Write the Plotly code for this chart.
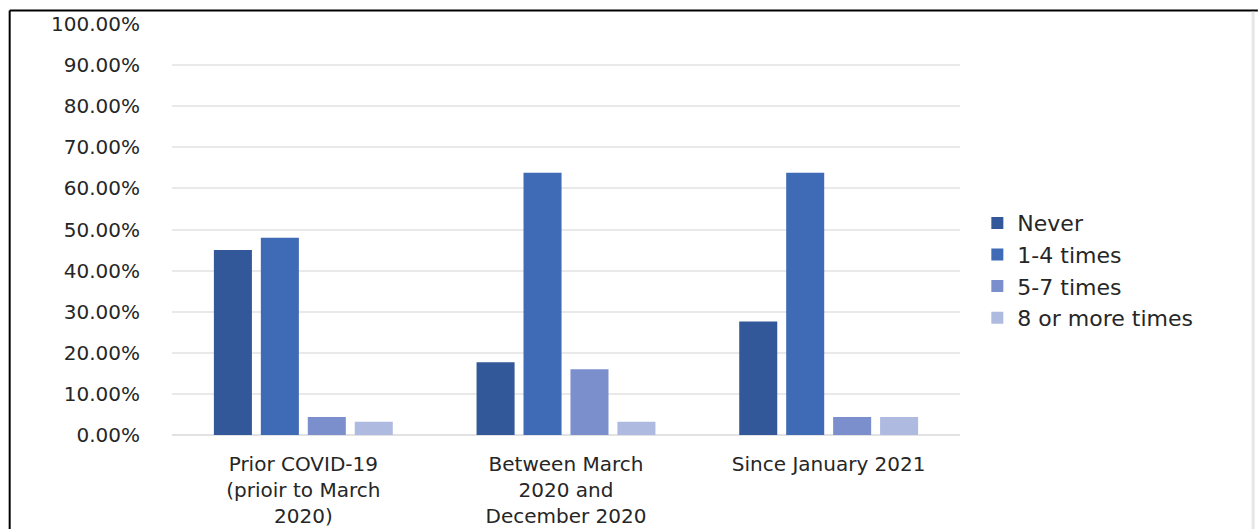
import plotly.graph_objects as go

categories = ["Prior COVID-19<br>(prioir to March<br>2020)",
              "Between March<br>2020 and<br>December 2020",
              "Since January 2021"]
series_names = ["Never", "1-4 times", "5-7 times", "8 or more times"]
never = [45.0, 17.7, 27.6]
times_1_4 = [48.0, 63.8, 63.8]
times_5_7 = [4.4, 16.0, 4.4]
times_8_plus = [3.2, 3.2, 4.4]
colors = ["#335899", "#3F6AB6", "#7B8FCD", "#AEBADF"]

fig = go.Figure()
for name, vals, col in zip(series_names, [never, times_1_4, times_5_7, times_8_plus], colors):
    fig.add_trace(go.Bar(x=categories, y=vals, name=name, marker=dict(color=col, line=dict(width=0))))

FONT = "DejaVu Sans"
TXT = "#262626"
fig.update_layout(
    width=1259, height=529,
    margin=dict(l=172, r=299, t=24, b=94),
    paper_bgcolor="white", plot_bgcolor="white",
    barmode="group", bargap=0.285, bargroupgap=0.19,
    font=dict(family=FONT, color=TXT),
    showlegend=True,
    legend=dict(x=1.022, y=0.40, xanchor="left", yanchor="middle",
                font=dict(family=FONT, size=22, color=TXT),
                itemwidth=30, tracegroupgap=0, bgcolor="rgba(0,0,0,0)"),
    xaxis=dict(showgrid=False, showline=False, ticks="", automargin=False,
               tickfont=dict(family=FONT, size=20, color=TXT),
               ticklabelstandoff=15),
    yaxis=dict(range=[0, 100], dtick=10, tickformat=".2f", ticksuffix="%",
               showgrid=True, gridcolor="#e9e9e9", gridwidth=2,
               zeroline=True, zerolinecolor="#e2e2e2", zerolinewidth=2,
               showline=False, ticks="", automargin=False,
               tickfont=dict(family=FONT, size=20, color=TXT),
               ticklabelstandoff=31),
)

# frame lines of the picture
fig.add_shape(type="line", xref="paper", yref="paper", x0=-0.206, x1=1.378, y0=1.033, y1=1.033,
              line=dict(color="black", width=2))
fig.add_shape(type="line", xref="paper", yref="paper", x0=-0.206, x1=-0.206, y0=1.033, y1=-0.25,
              line=dict(color="black", width=2))
fig.add_shape(type="line", xref="paper", yref="paper", x0=1.372, x1=1.372, y0=1.03, y1=-0.25,
              line=dict(color="#e6e6e6", width=3))

fig.write_html("out.html")
